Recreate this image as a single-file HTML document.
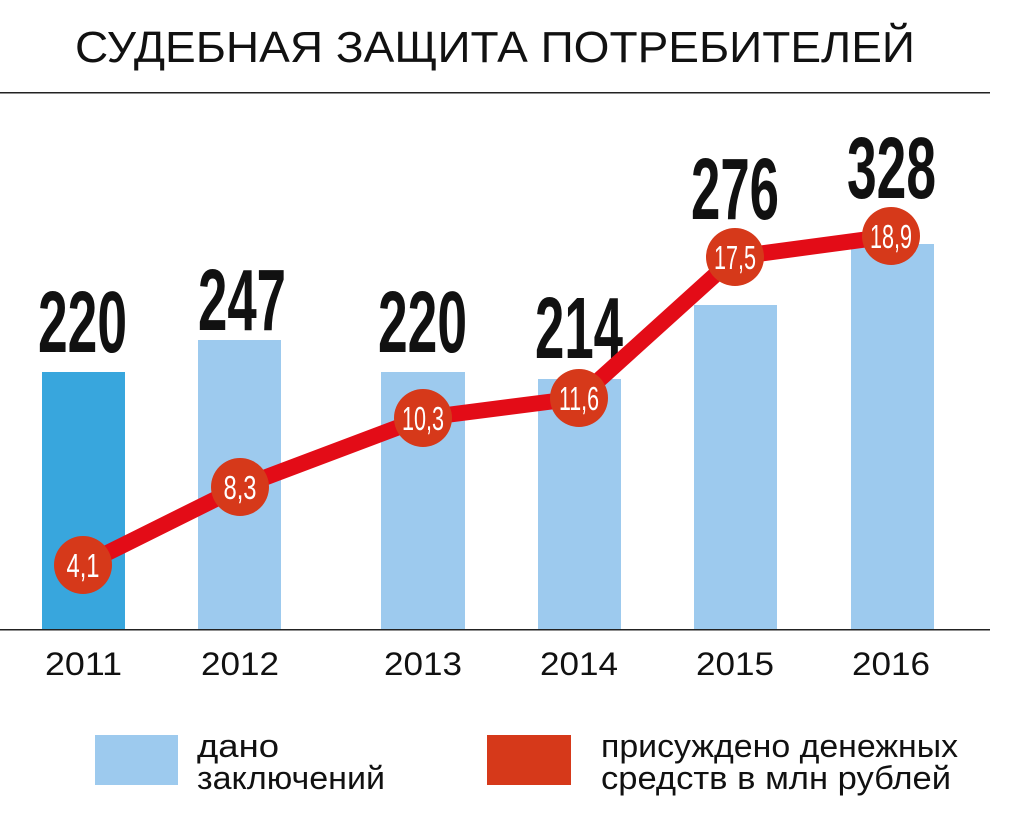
<!DOCTYPE html>
<html><head><meta charset="utf-8"><style>html,body{margin:0;padding:0;background:#fff}</style></head><body>
<svg width="1013" height="828" viewBox="0 0 1013 828" xmlns="http://www.w3.org/2000/svg" font-family="Liberation Sans, sans-serif">
<text x="75" y="62" font-size="44" textLength="840" lengthAdjust="spacingAndGlyphs" fill="#111">СУДЕБНАЯ ЗАЩИТА ПОТРЕБИТЕЛЕЙ</text>
<rect x="0" y="92" width="990" height="1.5" fill="#222"/>
<rect x="42" y="372" width="83" height="258" fill="#38a6dd"/>
<rect x="198" y="340" width="83" height="290" fill="#9dcaee"/>
<rect x="381" y="372" width="84" height="258" fill="#9dcaee"/>
<rect x="538" y="379" width="83" height="251" fill="#9dcaee"/>
<rect x="694" y="305" width="83" height="325" fill="#9dcaee"/>
<rect x="851" y="244" width="83" height="386" fill="#9dcaee"/>
<rect x="0" y="629" width="990" height="1.5" fill="#222"/>
<g font-weight="bold" font-size="87" fill="#111">
<text x="38" y="352" textLength="89" lengthAdjust="spacingAndGlyphs">220</text>
<text x="198" y="330" textLength="88" lengthAdjust="spacingAndGlyphs">247</text>
<text x="378" y="352" textLength="89" lengthAdjust="spacingAndGlyphs">220</text>
<text x="535" y="358" textLength="88" lengthAdjust="spacingAndGlyphs">214</text>
<text x="691" y="219" textLength="88" lengthAdjust="spacingAndGlyphs">276</text>
<text x="847" y="198" textLength="89" lengthAdjust="spacingAndGlyphs">328</text>
</g>
<polyline points="83,565 240,487 423,418 579,398 735,257 891,236" fill="none" stroke="#e30c17" stroke-width="16" stroke-linejoin="round"/>
<g fill="#d6391a">
<circle cx="83" cy="565" r="29"/><circle cx="240" cy="487" r="29"/><circle cx="423" cy="418" r="29"/>
<circle cx="579" cy="398" r="29"/><circle cx="735" cy="257" r="29"/><circle cx="891" cy="236" r="29"/>
</g>
<g fill="#fff" font-size="33" text-anchor="middle">
<text x="83" y="577" textLength="33" lengthAdjust="spacingAndGlyphs">4,1</text>
<text x="240" y="499" textLength="33" lengthAdjust="spacingAndGlyphs">8,3</text>
<text x="423" y="430" textLength="42" lengthAdjust="spacingAndGlyphs">10,3</text>
<text x="579" y="410" textLength="40" lengthAdjust="spacingAndGlyphs">11,6</text>
<text x="735" y="269" textLength="42" lengthAdjust="spacingAndGlyphs">17,5</text>
<text x="891" y="248" textLength="42" lengthAdjust="spacingAndGlyphs">18,9</text>
</g>
<g font-size="32" fill="#111">
<text x="45" y="675" textLength="77" lengthAdjust="spacingAndGlyphs">2011</text>
<text x="201" y="675" textLength="78" lengthAdjust="spacingAndGlyphs">2012</text>
<text x="384" y="675" textLength="78" lengthAdjust="spacingAndGlyphs">2013</text>
<text x="540" y="675" textLength="78" lengthAdjust="spacingAndGlyphs">2014</text>
<text x="696" y="675" textLength="78" lengthAdjust="spacingAndGlyphs">2015</text>
<text x="852" y="675" textLength="78" lengthAdjust="spacingAndGlyphs">2016</text>
</g>
<rect x="95" y="735" width="83" height="50" fill="#9dcaee"/>
<rect x="487" y="735" width="84" height="50" fill="#d6391a"/>
<g font-size="32" fill="#111">
<text x="197" y="757" textLength="82" lengthAdjust="spacingAndGlyphs">дано</text>
<text x="197" y="789" textLength="188" lengthAdjust="spacingAndGlyphs">заключений</text>
<text x="601" y="757" textLength="357" lengthAdjust="spacingAndGlyphs">присуждено денежных</text>
<text x="601" y="789" textLength="350" lengthAdjust="spacingAndGlyphs">средств в млн  рублей</text>
</g>
</svg>
</body></html>
